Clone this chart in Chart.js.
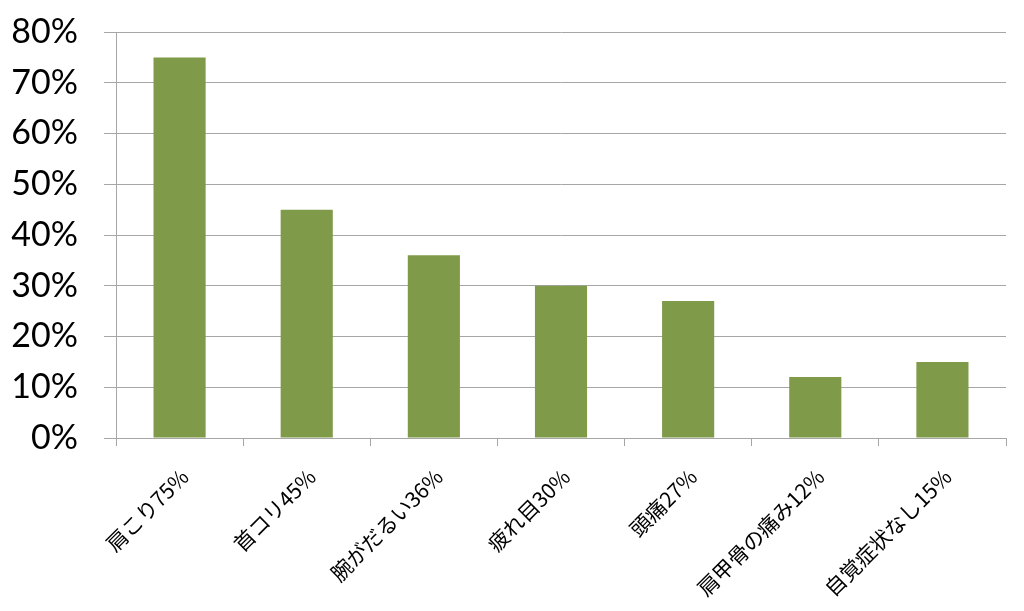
<!DOCTYPE html>
<html><head><meta charset="utf-8">
<script src="https://cdn.jsdelivr.net/npm/chart.js@4.4.1/dist/chart.umd.min.js"></script>
<style>html,body{margin:0;padding:0;background:#fff;}#wrap{width:1024px;height:611px;}</style>
</head><body><div id="wrap"><canvas id="c" width="1024" height="611"></canvas></div>
<script>
const categories = ["肩こり75%","首コリ45%","腕がだるい36%","疲れ目30%","頭痛27%","肩甲骨の痛み12%","自覚症状なし15%"];
const values = [75,45,36,30,27,12,15];
const yTicks = [0,10,20,30,40,50,60,70,80];

new Chart(document.getElementById('c'), {
  type: 'bar',
  data: { labels: categories, datasets: [{ data: values, backgroundColor: '#7f9a48', borderWidth: 0, barPercentage: 0.82, categoryPercentage: 0.5 }] },
  options: {
    responsive: false, animation: false, devicePixelRatio: 1,
    layout: { padding: { top: 32, right: 18, bottom: 0, left: 0 } },
    plugins: { legend: { display: false }, tooltip: { enabled: false } },
    scales: {
      x: {
        grid: { display: true, drawOnChartArea: false, drawTicks: true, tickLength: 8, color: '#a6a6a6', offset: true },
        border: { display: true, color: '#a6a6a6' },
        ticks: { maxRotation: 45, minRotation: 45, autoSkip: false, color: '#000', padding: 18, labelOffset: 5,
          font: { family: '"Noto Sans CJK JP"', size: 21 } },
        afterFit(s) { s.height = 173; }
      },
      y: {
        min: 0, max: 80,
        afterBuildTicks(s) { s.ticks = yTicks.map(v => ({ value: v })); },
        grid: { color: '#a6a6a6', tickLength: 12, drawTicks: true },
        border: { display: true, color: '#a6a6a6' },
        ticks: { color: '#000', padding: 26, callback: v => v + '%', font: { family: 'Lato', size: 34 } },
        afterFit(s) { s.width = 116; s.paddingTop = 0; }
      }
    }
  }
});
</script></body></html>
